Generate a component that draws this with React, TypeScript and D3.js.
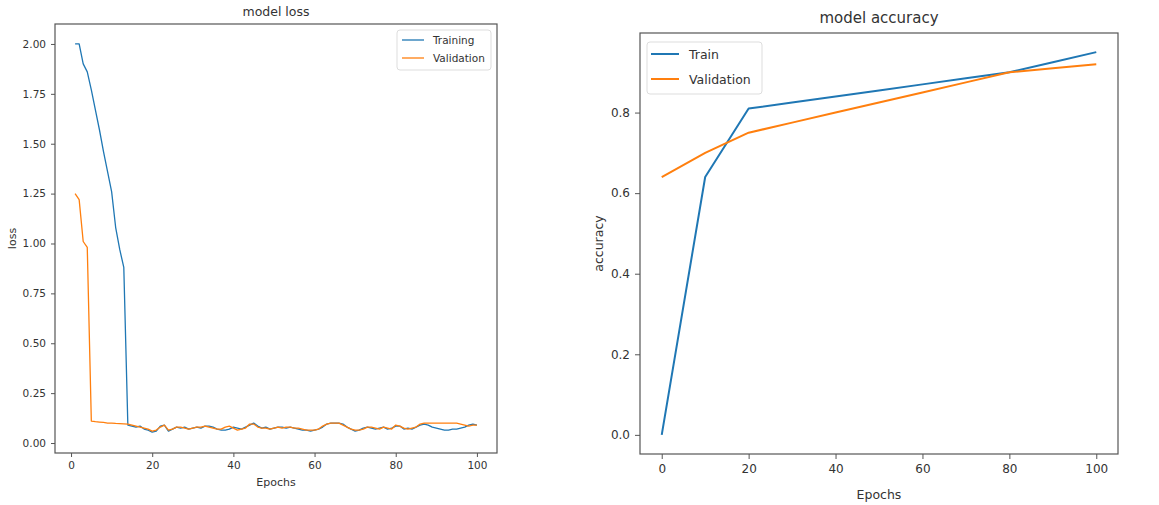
import React, { useEffect, useRef } from 'react';
import * as d3 from 'd3';

// ---- data: model loss (epochs 1..100) ----
const lossEpochs = Array.from({ length: 100 }, (_, i) => i + 1);

const trainingLoss = [
	2.0, 2.0, 1.9, 1.86, 1.77, 1.67, 1.57, 1.46, 1.36, 1.26, 1.08, 0.97, 0.88, 0.09,
	0.085, 0.08, 0.085, 0.07, 0.065, 0.055,
	0.06, 0.085, 0.09, 0.06, 0.07, 0.08, 0.075, 0.08, 0.07, 0.075,
	0.08, 0.075, 0.085, 0.085, 0.08, 0.07, 0.065, 0.065, 0.07, 0.08,
	0.075, 0.07, 0.08, 0.09, 0.1, 0.085, 0.075, 0.08, 0.07, 0.075,
	0.08, 0.08, 0.075, 0.08, 0.075, 0.07, 0.065, 0.065, 0.06, 0.065,
	0.07, 0.08, 0.095, 0.1, 0.1, 0.1, 0.095, 0.08, 0.07, 0.06,
	0.065, 0.075, 0.08, 0.075, 0.07, 0.075, 0.08, 0.07, 0.075, 0.085,
	0.085, 0.07, 0.075, 0.07, 0.08, 0.09, 0.095, 0.09, 0.08, 0.075,
	0.07, 0.065, 0.065, 0.07, 0.07, 0.075, 0.08, 0.09, 0.095, 0.09,
];

const validationLoss = [
	1.25, 1.22, 1.01, 0.98, 0.11, 0.107, 0.105, 0.103, 0.1, 0.1, 0.098, 0.097, 0.096, 0.095,
	0.09, 0.085, 0.08, 0.075, 0.07, 0.06,
	0.065, 0.08, 0.09, 0.065, 0.07, 0.08, 0.08, 0.075, 0.07, 0.075,
	0.08, 0.08, 0.085, 0.08, 0.075, 0.07, 0.07, 0.08, 0.085, 0.075,
	0.065, 0.07, 0.075, 0.095, 0.095, 0.08, 0.075, 0.075, 0.07, 0.075,
	0.08, 0.075, 0.08, 0.08, 0.075, 0.075, 0.07, 0.065, 0.065, 0.065,
	0.07, 0.085, 0.095, 0.1, 0.1, 0.1, 0.09, 0.08, 0.07, 0.065,
	0.065, 0.07, 0.08, 0.08, 0.075, 0.07, 0.08, 0.075, 0.07, 0.09,
	0.085, 0.075, 0.07, 0.075, 0.08, 0.095, 0.1, 0.1, 0.1, 0.1,
	0.1, 0.1, 0.1, 0.1, 0.1, 0.095, 0.09, 0.085, 0.09, 0.09,
];

// ---- data: model accuracy ----
const accEpochs = [0, 10, 20, 30, 40, 50, 60, 70, 80, 90, 100];
const trainAcc = [0.0, 0.64, 0.81, 0.825, 0.84, 0.855, 0.87, 0.885, 0.9, 0.925, 0.95];
const valAcc = [0.64, 0.7, 0.75, 0.775, 0.8, 0.825, 0.85, 0.875, 0.9, 0.91, 0.92];

// ---- ticks ----
const epochTicks = [0, 20, 40, 60, 80, 100];
const lossTicks = [0, 0.25, 0.5, 0.75, 1.0, 1.25, 1.5, 1.75, 2.0];
const accTicks = [0, 0.2, 0.4, 0.6, 0.8];

const BLUE = '#1f77b4';
const ORANGE = '#ff7f0e';
const TEXT = '#333';
const FONT = '"DejaVu Sans", sans-serif';

function drawPanel(svg, p) {
	const x = d3.scaleLinear().domain(p.xDomain).range([p.left, p.right]);
	const y = d3.scaleLinear().domain(p.yDomain).range([p.bottom, p.top]);

	const g = svg.append('g');

	// Axes
	const xAxis = g
		.append('g')
		.attr('transform', `translate(0,${p.bottom})`)
		.call(
			d3
				.axisBottom(x)
				.tickValues(p.xTicks)
				.tickFormat(d3.format('d'))
				.tickSize(p.tickLen)
				.tickPadding(p.tickPad)
		);
	const yAxis = g
		.append('g')
		.attr('transform', `translate(${p.left},0)`)
		.call(
			d3
				.axisLeft(y)
				.tickValues(p.yTicks)
				.tickFormat(d3.format(p.yFormat))
				.tickSize(p.tickLen)
				.tickPadding(p.tickPad)
		);
	[xAxis, yAxis].forEach((a) => {
		a.select('.domain').remove();
		a.selectAll('.tick line').attr('stroke', '#555');
		a.selectAll('text')
			.attr('fill', TEXT)
			.style('font-family', FONT)
			.style('font-size', `${p.tickFont}px`);
	});

	// Lines
	const line = d3
		.line()
		.x((d) => x(d[0]))
		.y((d) => y(d[1]));
	p.series.forEach((s) => {
		g.append('path')
			.datum(s.values.map((v, i) => [s.xs[i], v]))
			.attr('fill', 'none')
			.attr('stroke', s.color)
			.attr('stroke-width', p.lineWidth)
			.attr('stroke-linejoin', 'round')
			.attr('d', line);
	});

	// Frame
	g.append('rect')
		.attr('x', p.left)
		.attr('y', p.top)
		.attr('width', p.right - p.left)
		.attr('height', p.bottom - p.top)
		.attr('fill', 'none')
		.attr('stroke', '#555')
		.attr('stroke-width', 1.2);

	// Title and axis labels
	const cx = (p.left + p.right) / 2;
	g.append('text')
		.attr('x', cx)
		.attr('y', p.titleY)
		.attr('text-anchor', 'middle')
		.attr('fill', TEXT)
		.style('font-family', FONT)
		.style('font-size', `${p.titleFont}px`)
		.text(p.title);
	g.append('text')
		.attr('x', cx)
		.attr('y', p.xLabelY)
		.attr('text-anchor', 'middle')
		.attr('fill', TEXT)
		.style('font-family', FONT)
		.style('font-size', `${p.labelFont}px`)
		.text(p.xLabel);
	g.append('text')
		.attr('transform', `translate(${p.yLabelX},${(p.top + p.bottom) / 2}) rotate(-90)`)
		.attr('text-anchor', 'middle')
		.attr('dominant-baseline', 'central')
		.attr('fill', TEXT)
		.style('font-family', FONT)
		.style('font-size', `${p.labelFont}px`)
		.text(p.yLabel);

	// Legend
	const L = p.legend;
	const lg = g.append('g');
	lg.append('rect')
		.attr('x', L.x)
		.attr('y', L.y)
		.attr('width', L.w)
		.attr('height', L.h)
		.attr('rx', 3)
		.attr('fill', 'white')
		.attr('fill-opacity', 0.8)
		.attr('stroke', '#ddd');
	p.series.forEach((s, i) => {
		const ly = L.y + L.first + i * L.step;
		lg.append('line')
			.attr('x1', L.x + L.pad)
			.attr('x2', L.x + L.pad + L.lineLen)
			.attr('y1', ly)
			.attr('y2', ly)
			.attr('stroke', s.color)
			.attr('stroke-width', p.lineWidth);
		lg.append('text')
			.attr('x', L.x + L.pad + L.lineLen + L.gap)
			.attr('y', ly)
			.attr('dominant-baseline', 'central')
			.attr('fill', TEXT)
			.style('font-family', FONT)
			.style('font-size', `${L.font}px`)
			.text(s.name);
	});
}

export default function App() {
	const ref = useRef(null);

	useEffect(() => {
		document.body.style.margin = '0';
		const el = ref.current;
		if (!el) return;
		const svg = d3.select(el);
		svg.selectAll('*').remove();

		svg.append('rect').attr('width', 1159).attr('height', 505).attr('fill', 'white');

		// Left: model loss
		drawPanel(svg, {
			left: 55,
			right: 497,
			top: 24,
			bottom: 453,
			xDomain: [-3.95, 104.95],
			yDomain: [-0.05, 2.1],
			xTicks: epochTicks,
			yTicks: lossTicks,
			yFormat: '.2f',
			tickLen: 4,
			tickPad: 5,
			tickFont: 10.5,
			lineWidth: 1.3,
			title: 'model loss',
			titleY: 16,
			titleFont: 12.5,
			xLabel: 'Epochs',
			xLabelY: 486,
			yLabel: 'loss',
			yLabelX: 12,
			labelFont: 11,
			series: [
				{ name: 'Training', color: BLUE, xs: lossEpochs, values: trainingLoss },
				{ name: 'Validation', color: ORANGE, xs: lossEpochs, values: validationLoss },
			],
			legend: { x: 397, y: 30, w: 94, h: 40, first: 10, step: 18, pad: 5, lineLen: 22, gap: 9, font: 10.5 },
		});

		// Right: model accuracy
		drawPanel(svg, {
			left: 640,
			right: 1118,
			top: 33,
			bottom: 454,
			xDomain: [-5, 105],
			yDomain: [-0.0475, 0.9975],
			xTicks: epochTicks,
			yTicks: accTicks,
			yFormat: '.1f',
			tickLen: 5,
			tickPad: 5,
			tickFont: 12,
			lineWidth: 2,
			title: 'model accuracy',
			titleY: 23,
			titleFont: 15,
			xLabel: 'Epochs',
			xLabelY: 499,
			yLabel: 'accuracy',
			yLabelX: 598,
			labelFont: 12.5,
			series: [
				{ name: 'Train', color: BLUE, xs: accEpochs, values: trainAcc },
				{ name: 'Validation', color: ORANGE, xs: accEpochs, values: valAcc },
			],
			legend: { x: 647, y: 42, w: 115, h: 52, first: 12, step: 25, pad: 4, lineLen: 28, gap: 10, font: 12.5 },
		});
	}, []);

	return <svg ref={ref} width={1159} height={505} style={{ display: 'block' }} />;
}
